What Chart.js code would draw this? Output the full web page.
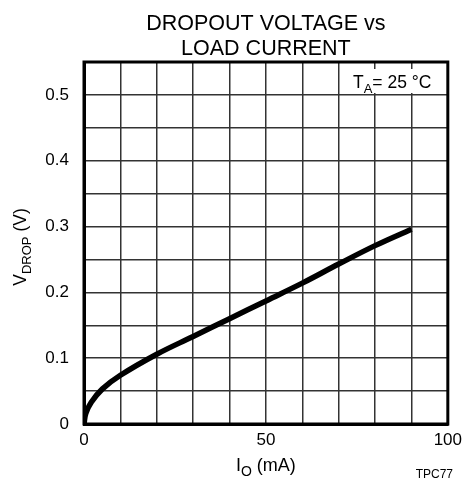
<!DOCTYPE html>
<html>
<head>
<meta charset="utf-8">
<title>Dropout Voltage vs Load Current</title>
<script src="https://cdn.jsdelivr.net/npm/chart.js@4.4.1/dist/chart.umd.min.js"></script>
<style>
  html, body { margin: 0; padding: 0; background: #fff; }
  #wrap { width: 468px; height: 485px; }
</style>
</head>
<body>
<div id="wrap"><canvas id="dropoutChart"></canvas></div>
<script>
// load current (mA) and dropout voltage (V) at TA = 25 °C
const loadCurrent = [0, 0.5, 2, 5, 10, 20, 30, 40, 50, 60, 70, 80, 90];
const dropoutVolts = [0, 0.016, 0.033, 0.053, 0.074, 0.106, 0.133, 0.160, 0.187, 0.214, 0.243, 0.271, 0.296];

const xTickLabels = [0, 50, 100];
const yTickLabels = [0, 0.1, 0.2, 0.3, 0.4, 0.5];

const FONT = '"Liberation Sans", Arial, sans-serif';

// draws a run of [text, size, dy] pieces starting at x
function drawRuns(ctx, runs, x, y) {
  runs.forEach(function (r) {
    ctx.font = r[1] + 'px ' + FONT;
    ctx.fillText(r[0], x, y + (r[2] || 0));
    x += ctx.measureText(r[0]).width;
  });
}

function runsWidth(ctx, runs) {
  let w = 0;
  runs.forEach(function (r) {
    ctx.font = r[1] + 'px ' + FONT;
    w += ctx.measureText(r[0]).width;
  });
  return w;
}

const labelsPlugin = {
  id: 'labels',
  afterDraw(chart) {
    const ctx = chart.ctx;
    const area = chart.chartArea;
    const cx = (area.left + area.right) / 2;
    ctx.save();
    ctx.fillStyle = '#000';
    ctx.textBaseline = 'alphabetic';

    // frame
    ctx.lineWidth = 3;
    ctx.strokeStyle = '#000';
    ctx.strokeRect(area.left, area.top, area.right - area.left, area.bottom - area.top);

    // title
    ctx.textAlign = 'center';
    ctx.font = '21.5px ' + FONT;
    ctx.fillText('DROPOUT VOLTAGE vs', cx, 30);
    ctx.fillText('LOAD CURRENT', cx, 55);

    ctx.textAlign = 'left';

    // temperature note
    const note = [['T', 17.5], ['A', 13, 5], ['= 25 °C', 17.5]];
    ctx.fillStyle = '#fff';
    ctx.fillRect(351, 69, 88, 24);
    ctx.fillStyle = '#000';
    drawRuns(ctx, note, 353, 88);

    // x axis title
    const xt = [['I', 18], ['O', 14, 5], [' (mA)', 18]];
    drawRuns(ctx, xt, cx - runsWidth(ctx, xt) / 2, 471);

    // y axis title
    const yt = [['V', 17.5], ['DROP', 13, 5], [' (V)', 17.5]];
    ctx.save();
    ctx.translate(26, (area.top + area.bottom) / 2 + 4);
    ctx.rotate(-Math.PI / 2);
    drawRuns(ctx, yt, -runsWidth(ctx, yt) / 2, 0);
    ctx.restore();

    // figure tag
    ctx.textAlign = 'right';
    ctx.font = '12px ' + FONT;
    ctx.fillText('TPC77', 453, 478);

    ctx.restore();
  }
};

const ctx = document.getElementById('dropoutChart').getContext('2d');

const data = {
  datasets: [
    {
      data: loadCurrent.map(function (x, i) { return { x: x, y: dropoutVolts[i] }; }),
      borderColor: '#000',
      borderWidth: 5.5,
      pointRadius: 0,
      fill: false,
      tension: 0.4
    }
  ]
};

const gridStyle = {
  color: '#333',
  lineWidth: 1.5,
  drawTicks: false
};

const config = {
  type: 'line',
  data: data,
  options: {
    responsive: true,
    maintainAspectRatio: false,
    animation: false,
    layout: {
      padding: { top: 62, right: 17, left: 0, bottom: 0 }
    },
    plugins: {
      legend: { display: false },
      tooltip: { enabled: false }
    },
    scales: {
      x: {
        type: 'linear',
        min: 0,
        max: 100,
        grid: gridStyle,
        border: { display: true, color: '#000', width: 3 },
        afterFit: function (s) { s.height = 61; },
        ticks: {
          stepSize: 10,
          autoSkip: false,
          maxRotation: 0,
          padding: 6,
          color: '#000',
          font: { family: FONT, size: 17 },
          callback: function (v) { return xTickLabels.includes(v) ? String(v) : ''; }
        }
      },
      y: {
        type: 'linear',
        min: 0,
        max: 0.55,
        grid: gridStyle,
        border: { display: true, color: '#000', width: 3 },
        afterFit: function (s) { s.width = 84; },
        ticks: {
          stepSize: 0.05,
          autoSkip: false,
          padding: 15,
          color: '#000',
          font: { family: FONT, size: 17 },
          callback: function (v) {
            const r = Math.round(v * 100) / 100;
            return yTickLabels.includes(r) ? String(r) : '';
          }
        }
      }
    }
  },
  plugins: [labelsPlugin]
};

const dropoutChart = new Chart(ctx, config);
</script>
</body>
</html>
